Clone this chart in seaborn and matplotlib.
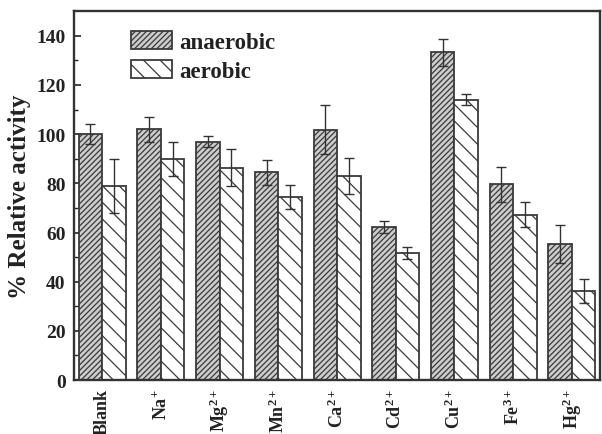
import numpy as np
import pandas as pd
import matplotlib
matplotlib.use("Agg")
import matplotlib.pyplot as plt
import seaborn as sns
from matplotlib.patches import Patch

categories = ["Blank", "Na$^{+}$", "Mg$^{2+}$", "Mn$^{2+}$", "Ca$^{2+}$",
              "Cd$^{2+}$", "Cu$^{2+}$", "Fe$^{3+}$", "Hg$^{2+}$"]
anaerobic = [100, 102, 97, 84.5, 101.8, 62.3, 133.3, 79.6, 55.2]
anaerobic_err = [4, 5, 2.3, 5, 10, 2.3, 5.4, 7.2, 7.7]
aerobic = [79, 90, 86.4, 74.4, 83, 51.6, 114, 67.3, 36.2]
aerobic_err = [11, 7, 7.5, 5, 7.3, 2.5, 2.3, 5.2, 4.8]
series = ["anaerobic", "aerobic"]

sns.set_theme(style="ticks")
plt.rcParams["font.family"] = ["Liberation Serif", "DejaVu Serif"]
plt.rcParams["font.weight"] = "bold"
plt.rcParams["mathtext.fontset"] = "custom"
plt.rcParams["mathtext.rm"] = "Liberation Serif:bold"
plt.rcParams["mathtext.bf"] = "Liberation Serif:bold"
plt.rcParams["mathtext.it"] = "Liberation Serif:bold"
plt.rcParams["mathtext.default"] = "rm"
plt.rcParams["hatch.linewidth"] = 0.9

df = pd.DataFrame({
    "cat": categories * 2,
    "series": [series[0]] * 9 + [series[1]] * 9,
    "value": anaerobic + aerobic,
})

fig = plt.figure(figsize=(6.02, 4.35), dpi=100)
ax = fig.add_axes([0.123, 0.124, 0.8737, 0.848])

edge = "#3a3a3a"
fills = {"anaerobic": "#cccccc", "aerobic": "white"}
sns.barplot(data=df, x="cat", y="value", hue="series", hue_order=series,
            order=categories, width=0.8, gap=0, ax=ax, legend=False,
            palette=fills, edgecolor=edge, linewidth=1.3, saturation=1)

hatches = {"anaerobic": "//////", "aerobic": "\\\\"}
bars = list(ax.patches)
n = len(categories)
for i, p in enumerate(bars[:2 * n]):
    s = series[0] if i < n else series[1]
    p.set_hatch(hatches[s])
    p.set_edgecolor(edge)

errs = anaerobic_err + aerobic_err
vals = anaerobic + aerobic
xs = [p.get_x() + p.get_width() / 2 for p in bars[:2 * n]]
ax.errorbar(xs, vals, yerr=errs, fmt="none", ecolor="#333333",
            elinewidth=1.0, capsize=3.5, capthick=1.0)

ax.set_ylim(0, 150)
ax.set_xlim(-0.48, 8.48)
ax.set_yticks(np.arange(0, 141, 20))
ax.set_yticks(np.arange(10, 150, 20), minor=True)
ax.tick_params(axis="y", which="major", direction="in", length=5, width=1.2,
               labelsize=14, colors="#222222", pad=6)
ax.tick_params(axis="y", which="minor", direction="in", length=3, width=1.0,
               colors="#222222")
ax.tick_params(axis="x", length=0, labelsize=13, pad=6, colors="#222222")
for lab in ax.get_xticklabels():
    lab.set_rotation(90)
    lab.set_fontweight("bold")
for lab in ax.get_yticklabels():
    lab.set_fontweight("bold")
ax.set_xlabel("")
ax.set_ylabel("% Relative activity", fontsize=18, fontweight="bold",
              color="#222222", labelpad=4)
for sp in ax.spines.values():
    sp.set_visible(True)
    sp.set_linewidth(1.7)
    sp.set_color("#333333")

handles = [Patch(facecolor=fills["anaerobic"], edgecolor=edge, hatch=hatches["anaerobic"], linewidth=1.3),
           Patch(facecolor="white", edgecolor=edge, hatch=hatches["aerobic"], linewidth=1.3)]
leg = ax.legend(handles, series, loc="upper left", bbox_to_anchor=(0.108, 0.945),
                frameon=False, fontsize=16.5, handlelength=1.8, handleheight=0.8,
                handletextpad=0.3, labelspacing=0.3, borderaxespad=0, borderpad=0)
for t in leg.get_texts():
    t.set_fontweight("bold")
    t.set_color("#222222")

fig.savefig("out.png", dpi=100)
